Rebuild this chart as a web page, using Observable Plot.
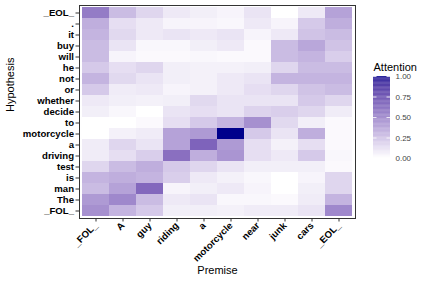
<!DOCTYPE html>
<html>
<head>
<meta charset="utf-8">
<script src="https://cdn.jsdelivr.net/npm/d3@7"></script>
<script src="https://cdn.jsdelivr.net/npm/@observablehq/plot@0.6"></script>
<style>
  html, body { margin: 0; padding: 0; background: #fff; }
  #wrap { position: relative; width: 427px; height: 285px; }
  #legend { position: absolute; left: 340px; top: 50px; }
  svg text { font-family: "Liberation Sans", Arial, sans-serif; }
  #main g[aria-label="y-axis tick label"] text,
  #main g[aria-label="x-axis tick label"] text { font-weight: bold; fill: #000; }
</style>
</head>
<body>
<div id="wrap"><div id="main"></div><div id="legend"></div></div>
<script>
const premise = ["_FOL_", "A", "guy", "riding", "a", "motorcycle", "near", "junk", "cars", "_EOL_"];
const hypothesis = ["_EOL_", ".", "it", "buy", "will", "he", "not", "or", "whether", "decide", "to",
  "motorcycle", "a", "driving", "test", "is", "man", "The", "_FOL_"];
// one row per hypothesis token (top to bottom), one value per premise token
const attention = [
  [0.50, 0.25, 0.15, 0.08, 0.06, 0.04, 0.10, 0.00, 0.08, 0.35],
  [0.30, 0.12, 0.08, 0.04, 0.04, 0.03, 0.08, 0.04, 0.20, 0.30],
  [0.28, 0.14, 0.08, 0.10, 0.08, 0.10, 0.04, 0.08, 0.22, 0.25],
  [0.25, 0.10, 0.03, 0.03, 0.06, 0.08, 0.02, 0.25, 0.33, 0.22],
  [0.25, 0.04, 0.02, 0.02, 0.03, 0.02, 0.02, 0.25, 0.28, 0.18],
  [0.20, 0.12, 0.15, 0.06, 0.05, 0.05, 0.06, 0.15, 0.25, 0.25],
  [0.28, 0.14, 0.10, 0.06, 0.05, 0.08, 0.10, 0.28, 0.28, 0.28],
  [0.20, 0.07, 0.08, 0.04, 0.05, 0.08, 0.12, 0.15, 0.22, 0.25],
  [0.08, 0.06, 0.05, 0.06, 0.14, 0.10, 0.10, 0.10, 0.20, 0.15],
  [0.06, 0.03, 0.00, 0.10, 0.12, 0.10, 0.16, 0.18, 0.15, 0.07],
  [0.00, 0.00, 0.02, 0.12, 0.20, 0.28, 0.42, 0.14, 0.06, 0.02],
  [0.00, 0.05, 0.07, 0.35, 0.38, 1.00, 0.20, 0.10, 0.30, 0.02],
  [0.07, 0.15, 0.10, 0.35, 0.60, 0.38, 0.12, 0.05, 0.12, 0.02],
  [0.07, 0.12, 0.18, 0.55, 0.30, 0.40, 0.12, 0.08, 0.20, 0.03],
  [0.15, 0.25, 0.30, 0.20, 0.15, 0.10, 0.06, 0.06, 0.06, 0.02],
  [0.28, 0.30, 0.28, 0.18, 0.08, 0.05, 0.03, 0.00, 0.04, 0.15],
  [0.25, 0.35, 0.58, 0.04, 0.06, 0.08, 0.04, 0.00, 0.06, 0.15],
  [0.38, 0.45, 0.25, 0.08, 0.10, 0.03, 0.03, 0.02, 0.07, 0.28],
  [0.42, 0.28, 0.20, 0.06, 0.06, 0.05, 0.07, 0.07, 0.10, 0.45]
];
const legendTicks = [0, 0.25, 0.5, 0.75, 1];

const cells = [];
hypothesis.forEach((h, i) => premise.forEach((p, j) => cells.push({premise: p, hypothesis: h, value: attention[i][j]})));

const colorScale = {type: "linear", domain: [0, 1], range: ["#ffffff", "#00008B"], interpolate: "lab"};

const main = Plot.plot({
  width: 427, height: 285,
  marginLeft: 79, marginRight: 72, marginTop: 5, marginBottom: 67,
  style: {fontFamily: "Liberation Sans, Arial, sans-serif", fontSize: "9.6px", background: "#fff"},
  x: {type: "band", domain: premise, padding: 0},
  y: {type: "band", domain: hypothesis, padding: 0},
  color: colorScale,
  marks: [
    Plot.cell(cells, {x: "premise", y: "hypothesis", fill: "value"}),
    Plot.frame({stroke: "#333", strokeWidth: 1}),
    Plot.axisX({tickRotate: -45, tickSize: 3.5, tickPadding: 2, stroke: "#333", label: null, fontSize: 9.6}),
    Plot.axisY({tickSize: 3.5, tickPadding: 2, stroke: "#333", label: null, fontSize: 9.6}),
    Plot.text(["Premise"], {frameAnchor: "bottom", dy: 55, fontSize: 11, fill: "#000"}),
    Plot.text(["Hypothesis"], {frameAnchor: "left", dx: -69, rotate: -90, fontSize: 11, fill: "#000"})
  ]
});
document.getElementById("main").appendChild(main);

const steps = d3.range(0, 100).map(i => ({y1: i / 100, y2: (i + 1) / 100, v: (i + 0.5) / 100}));
const legend = Plot.plot({
  width: 87, height: 120,
  marginLeft: 33, marginRight: 37, marginTop: 26, marginBottom: 12,
  style: {fontFamily: "Liberation Sans, Arial, sans-serif", fontSize: "8px", background: "transparent", overflow: "visible"},
  y: {domain: [0, 1]},
  color: colorScale,
  marks: [
    Plot.rect(steps, {y1: "y1", y2: "y2", fill: "v"}),
    Plot.tickY(legendTicks, {y: d => d, stroke: "#fff", strokeWidth: 0.8, insetRight: 13.5}),
    Plot.tickY(legendTicks, {y: d => d, stroke: "#fff", strokeWidth: 0.8, insetLeft: 13.5}),
    Plot.axisY(legendTicks, {anchor: "right", tickSize: 0, tickPadding: 5, tickFormat: d3.format(".2f"), label: null, fill: "#444", fontSize: 8}),
    Plot.text(["Attention"], {frameAnchor: "top-left", lineAnchor: "bottom", dy: -6, fontSize: 11, fill: "#000", textAnchor: "start"})
  ]
});
document.getElementById("legend").appendChild(legend);
</script>
</body>
</html>
